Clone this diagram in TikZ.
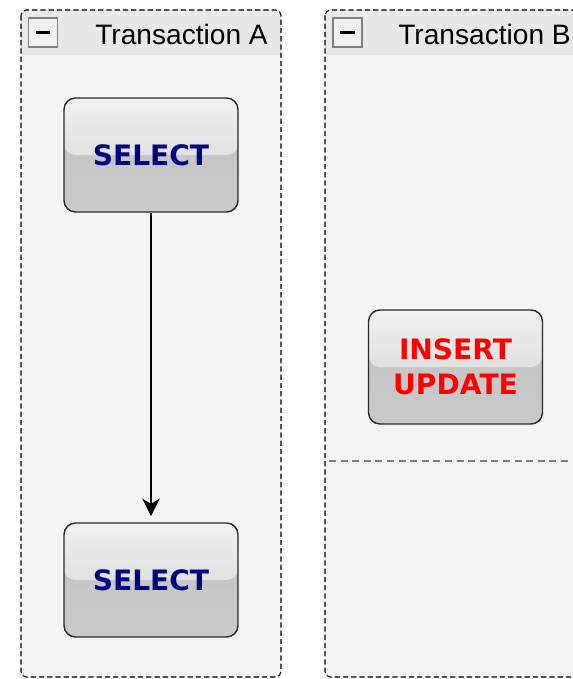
\documentclass[tikz,border=0pt]{standalone}
\usepackage{fontspec}
\setmainfont{DejaVu Sans}
\newfontfamily\headfont{Liberation Sans}
\usepackage{tikz}
\usetikzlibrary{arrows.meta, positioning}
\definecolor{lanebody}{RGB}{244, 244, 244}
\definecolor{lanehead}{RGB}{232, 232, 232}
\definecolor{stepnavy}{RGB}{0, 0, 128}
\definecolor{stepred}{RGB}{255, 0, 0}
\definecolor{boxedge}{RGB}{40, 40, 40}
\definecolor{shadetop}{RGB}{240, 240, 240}
\definecolor{shademid}{RGB}{225, 225, 225}
\definecolor{shadelow}{RGB}{194, 194, 194}
\definecolor{shadebot}{RGB}{202, 202, 202}

\begin{document}
\begin{tikzpicture}[x=0.02cm, y=-0.02cm,
  lane/.style={draw=black, dash pattern=on 3pt off 1.7pt, line width=0.6pt, rounded corners=3pt},
  minusbox/.style={draw=gray, fill=white!94!black, line width=0.6pt, minimum size=0.58cm, inner sep=0pt},
  lanetitle/.style={anchor=west, inner sep=0pt, font=\headfont\fontsize{16}{19}\selectfont},
  stepbox/.style={draw=boxedge, fill=shadelow, line width=0.8pt, rounded corners=6.5pt, minimum width=3.48cm, minimum height=2.28cm,
    inner sep=0pt, align=center, font=\fontsize{16}{19.8}\selectfont\bfseries,
    path picture={
      \fill[top color=shadelow, bottom color=shadebot] (path picture bounding box.south west) rectangle (path picture bounding box.north east);
      \fill[top color=shadetop, bottom color=shademid] (path picture bounding box.north west) rectangle (path picture bounding box.east);
    }}]
  \useasboundingbox (0,0) rectangle (573,679);
  \clip (0,0) rectangle (573,679);

  % Lanes
  \fill[lanebody, rounded corners=3pt] (21,10) rectangle (281,677);
  \fill[lanehead, rounded corners=3pt] (21,55) -- (21,10) -- (281,10) -- (281,55);
  \draw[lane] (21,10) rectangle (281,677);

  \fill[lanebody, rounded corners=3pt] (325,10) rectangle (620,677);
  \fill[lanehead, rounded corners=3pt] (325,55) -- (325,10) -- (620,10) -- (620,55);
  \draw[lane] (325,10) rectangle (620,677);
  \draw[gray, dash pattern=on 4pt off 2.6pt, line width=0.6pt] (329,461) -- (620,461);

  % Lane headers
  \node[minusbox] (foldA) at (43,32.5) {\rule[-0.9pt]{0.3cm}{1.8pt}};
  \node[lanetitle] (titleA) at (95,34) {Transaction A};
  \node[minusbox] (foldB) at (347.5,32.5) {\rule[-0.9pt]{0.3cm}{1.8pt}};
  \node[lanetitle] (titleB) at (398,34) {Transaction B};

  % Statements
  \node[stepbox, text=stepnavy] (selA) at (151,155) {SELECT};
  \node[stepbox, text=stepnavy] (selB) at (151,580) {SELECT};
  \node[stepbox, text=stepred] (insB) at (455.5,367) {INSERT\\UPDATE};

  \draw[-{Stealth[length=10pt, width=10pt, inset=3pt]}, line width=0.8pt, shorten >=3.5pt] (selA) -- (selB);
\end{tikzpicture}
\end{document}
